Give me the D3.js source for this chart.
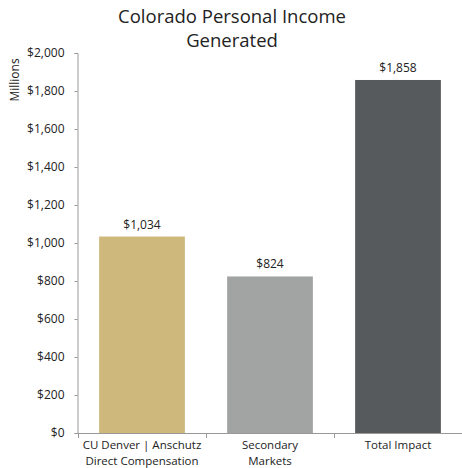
<!DOCTYPE html>
<html><head><meta charset="utf-8">
<script src="https://cdn.jsdelivr.net/npm/d3@7"></script>
<style>body{margin:0;background:#fff}svg{display:block;font-family:"Open Sans",sans-serif}</style>
</head><body><svg id="c" width="462" height="468"></svg>
<script>
const categories = [["CU Denver |  Anschutz","Direct Compensation"],["Secondary","Markets"],["Total Impact"]];
const values = [1034, 824, 1858];
const colors = ["#CFB87C", "#A2A4A3", "#565A5C"];
const yTicks = [0,200,400,600,800,1000,1200,1400,1600,1800,2000];

const svg = d3.select("#c");
const x = d3.scaleBand().domain(d3.range(values.length)).range([78, 462]).paddingInner(0.33).paddingOuter(0.165);
const y = d3.scaleLinear().domain([0, 2000]).range([433, 53]);
const fmt = v => "$" + d3.format(",")(v);

svg.append("text").attr("x", 232).attr("y", 23).attr("text-anchor","middle").attr("font-size",18.5).attr("fill","#222").text("Colorado Personal Income");
svg.append("text").attr("x", 232).attr("y", 47).attr("text-anchor","middle").attr("font-size",18.5).attr("fill","#222").text("Generated");

svg.append("text").attr("transform","translate(19,80) rotate(-90)").attr("text-anchor","middle").attr("font-size",12).attr("fill","#222").text("Millions");

const ya = svg.append("g").attr("transform","translate(77.5,0)")
  .call(d3.axisLeft(y).tickValues(yTicks).tickFormat(fmt).tickSize(3).tickPadding(10));
ya.select(".domain").attr("stroke","#999");
ya.selectAll(".tick line").attr("stroke","#999");
ya.selectAll("text").attr("font-size",12).attr("fill","#222").attr("font-family","Open Sans");

svg.selectAll("rect.bar").data(values).join("rect").attr("class","bar")
  .attr("x",(d,i)=>x(i)).attr("width",x.bandwidth())
  .attr("y",d=>y(d)).attr("height",d=>y(0)-y(d)).attr("fill",(d,i)=>colors[i]);

svg.selectAll("text.val").data(values).join("text").attr("class","val")
  .attr("x",(d,i)=>x(i)+x.bandwidth()/2).attr("y",d=>y(d)-8)
  .attr("text-anchor","middle").attr("font-size",12).attr("fill","#222").text(fmt);

const xb = d3.scaleLinear().domain([0, values.length]).range([78, 462]);
svg.append("line").attr("x1",77).attr("x2",462).attr("y1",433.5).attr("y2",433.5).attr("stroke","#999");
svg.selectAll("line.xt").data(d3.range(values.length+1)).join("line").attr("class","xt")
  .attr("x1",d=>Math.round(xb(d))+0.5).attr("x2",d=>Math.round(xb(d))+0.5).attr("y1",433).attr("y2",438).attr("stroke","#999");

svg.selectAll("g.cat").data(categories).join("g").attr("class","cat")
  .each(function(lines,i){
    d3.select(this).selectAll("text").data(lines).join("text")
      .attr("text-anchor","middle").attr("font-size",11.5).attr("fill","#222")
      .attr("x", x(i)+x.bandwidth()/2).attr("y",(s,j)=>448.5 + j*16).text(s=>s);
  });
</script></body></html>
